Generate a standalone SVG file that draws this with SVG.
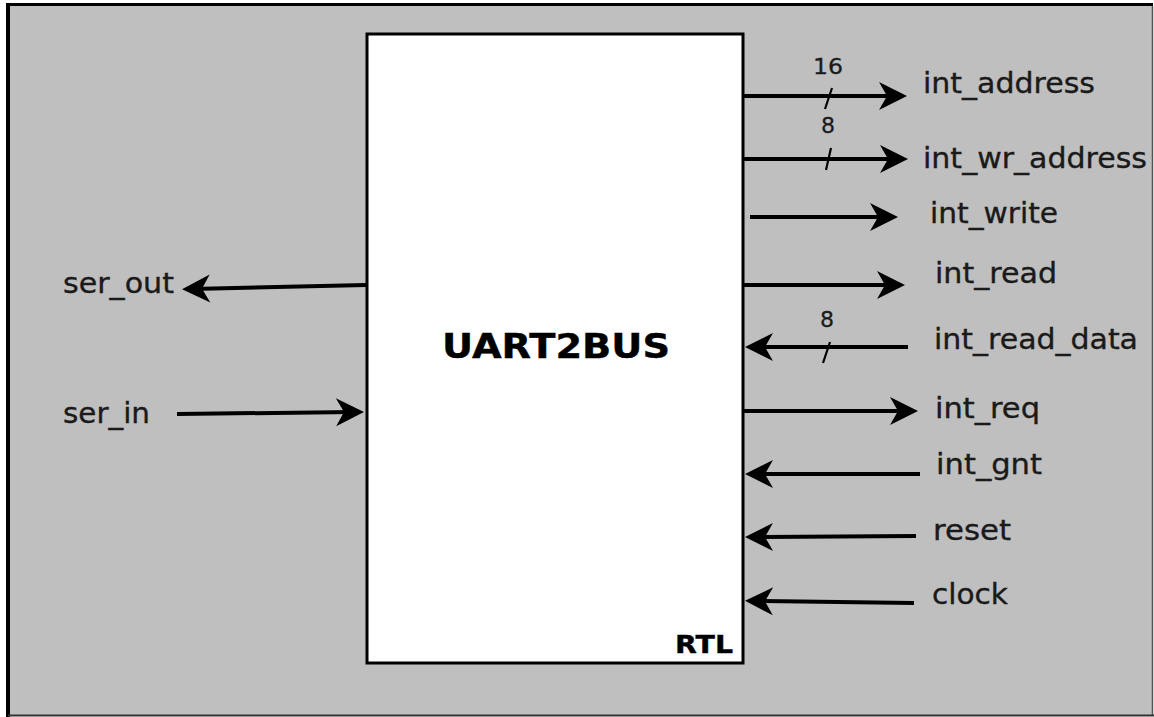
<svg xmlns="http://www.w3.org/2000/svg" width="1154" height="717" viewBox="0 0 1154 717">
<style>
.lbl{font-family:"DejaVu Sans",Verdana,sans-serif;font-size:28px;fill:#1a1a1a;stroke:#1a1a1a;stroke-width:0.35px}
.num{font-family:"DejaVu Sans",Verdana,sans-serif;font-size:22px;fill:#1a1a1a;stroke:#1a1a1a;stroke-width:0.3px}
.bold{font-family:"DejaVu Sans",Verdana,sans-serif;font-weight:bold;fill:#000;stroke:#000;stroke-width:0.4px}
.wire{stroke:#000;stroke-width:4;fill:none}
.tick{stroke:#000;stroke-width:2.2;fill:none}
</style>
<defs>
<marker id="ah" markerUnits="userSpaceOnUse" viewBox="-20 -16 32 32" markerWidth="32" markerHeight="32" refX="0" refY="0" orient="auto">
<path d="M10,0 L-18,-14 L-10,0 L-18,14 Z" fill="#000"/>
</marker>
</defs>
<g id="frame">
<rect x="0" y="0" width="1154" height="717" fill="#fff"/>
<rect x="8" y="4" width="1144" height="711" fill="#bfbfbf"/>
<line x1="6" y1="4.5" x2="1153" y2="4.5" stroke="#000" stroke-width="3"/>
<line x1="8" y1="3" x2="8" y2="717" stroke="#000" stroke-width="4"/>
<line x1="1152.5" y1="6" x2="1152.5" y2="716" stroke="#555" stroke-width="1.5"/>
<line x1="8" y1="715.5" x2="1154" y2="715.5" stroke="#333" stroke-width="2"/>
</g>
<g id="uart2bus">
<rect x="367" y="34" width="376" height="629" fill="#fff" stroke="#000" stroke-width="3"/>
<text class="bold" x="442" y="358" font-size="34" textLength="228" lengthAdjust="spacingAndGlyphs">UART2BUS</text>
<text class="bold" x="675" y="653" font-size="25" textLength="58" lengthAdjust="spacingAndGlyphs">RTL</text>
</g>
<g id="connectors">
<line class="wire" x1="743" y1="96" x2="897" y2="96" marker-end="url(#ah)"/>
<line class="tick" x1="825" y1="109" x2="832" y2="88"/>
<line class="wire" x1="743" y1="159" x2="898" y2="159" marker-end="url(#ah)"/>
<line class="tick" x1="826" y1="170" x2="831" y2="148"/>
<line class="wire" x1="750" y1="217" x2="888" y2="217" marker-end="url(#ah)"/>
<line class="wire" x1="743" y1="285" x2="895" y2="285" marker-end="url(#ah)"/>
<line class="wire" x1="908" y1="347" x2="755" y2="347" marker-end="url(#ah)"/>
<line class="tick" x1="823" y1="363" x2="830" y2="342"/>
<line class="wire" x1="743" y1="411" x2="908" y2="411" marker-end="url(#ah)"/>
<line class="wire" x1="920" y1="474" x2="755" y2="474" marker-end="url(#ah)"/>
<line class="wire" x1="916" y1="536" x2="755" y2="537" marker-end="url(#ah)"/>
<line class="wire" x1="914" y1="603" x2="755" y2="601" marker-end="url(#ah)"/>
<line class="wire" x1="366" y1="285" x2="192" y2="289" marker-end="url(#ah)"/>
<line class="wire" x1="177" y1="414" x2="354" y2="412" marker-end="url(#ah)"/>
</g>
<g id="labels">
<text class="num" x="813" y="74" textLength="30" lengthAdjust="spacingAndGlyphs">16</text>
<text class="num" x="821" y="133" textLength="14" lengthAdjust="spacingAndGlyphs">8</text>
<text class="num" x="820" y="327" textLength="14" lengthAdjust="spacingAndGlyphs">8</text>
<text class="lbl" x="923" y="93" textLength="172" lengthAdjust="spacingAndGlyphs">int_address</text>
<text class="lbl" x="923" y="168" textLength="224" lengthAdjust="spacingAndGlyphs">int_wr_address</text>
<text class="lbl" x="930" y="223" textLength="128" lengthAdjust="spacingAndGlyphs">int_write</text>
<text class="lbl" x="935" y="283" textLength="122" lengthAdjust="spacingAndGlyphs">int_read</text>
<text class="lbl" x="934" y="349" textLength="204" lengthAdjust="spacingAndGlyphs">int_read_data</text>
<text class="lbl" x="935" y="418" textLength="105" lengthAdjust="spacingAndGlyphs">int_req</text>
<text class="lbl" x="936" y="474" textLength="106" lengthAdjust="spacingAndGlyphs">int_gnt</text>
<text class="lbl" x="933" y="540" textLength="78" lengthAdjust="spacingAndGlyphs">reset</text>
<text class="lbl" x="932" y="604" textLength="76" lengthAdjust="spacingAndGlyphs">clock</text>
<text class="lbl" x="63" y="293" textLength="111" lengthAdjust="spacingAndGlyphs">ser_out</text>
<text class="lbl" x="63" y="423" textLength="87" lengthAdjust="spacingAndGlyphs">ser_in</text>
</g>
</svg>
